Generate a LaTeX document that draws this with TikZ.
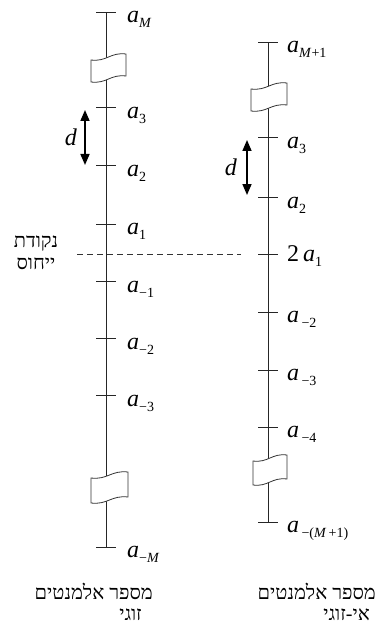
\documentclass[tikz,border=0pt]{standalone}
\usepackage{fontspec}
\setmainfont{Liberation Serif}
\newfontfamily\hebfont[Script=Hebrew]{Liberation Serif}
\TeXXeTstate=1
\usetikzlibrary{arrows.meta}

\newcommand{\el}[1]{\textit{a}\raisebox{-5pt}{\fontsize{14}{14}\selectfont #1}}
% broken-axis mark: left x, right x, top y, bottom y
\newcommand{\axisbreak}[4]{%
  \draw[brk] (#1,#3+3) .. controls ({#1+0.45*(#2-#1)},#3+5) and ({#1+0.55*(#2-#1)},#3-5) .. (#2,#3-3)
    -- (#2,#4-3) .. controls ({#1+0.55*(#2-#1)},#4-5) and ({#1+0.45*(#2-#1)},#4+5) .. (#1,#4+3) -- cycle;
}

\begin{document}
\begin{tikzpicture}[x=1pt, y=-1pt,
  axis/.style={line width=1pt, black!85},
  brk/.style={line width=0.8pt, black!80, fill=white},
  lbl/.style={anchor=base west, inner sep=0pt, font=\fontsize{24}{26}\selectfont},
  heb/.style={inner sep=0pt, font=\fontsize{20}{22}\selectfont\hebfont},
  darrow/.style={line width=1.6pt, {Triangle[length=11pt,width=9pt]}-{Triangle[length=11pt,width=9pt]}}]
  \useasboundingbox (0,0) rectangle (376,631);

  % even number of elements
  \coordinate (LM) at (106,13);
  \coordinate (L3) at (106,108);
  \coordinate (L2) at (106,166);
  \coordinate (L1) at (106,224);
  \coordinate (Lm1) at (106,281);
  \coordinate (Lm2) at (106,338);
  \coordinate (Lm3) at (106,395);
  \coordinate (LmM) at (106,547);

  \draw[axis] (LM) -- (LmM);
  \draw[axis] ([xshift=-10pt]LM) -- ([xshift=10pt]LM);
  \draw[axis] ([xshift=-10pt]L3) -- ([xshift=10pt]L3);
  \draw[axis] ([xshift=-10pt]L2) -- ([xshift=10pt]L2);
  \draw[axis] ([xshift=-10pt]L1) -- ([xshift=10pt]L1);
  \draw[axis] ([xshift=-10pt]Lm1) -- ([xshift=10pt]Lm1);
  \draw[axis] ([xshift=-10pt]Lm2) -- ([xshift=10pt]Lm2);
  \draw[axis] ([xshift=-10pt]Lm3) -- ([xshift=10pt]Lm3);
  \draw[axis] ([xshift=-10pt]LmM) -- ([xshift=10pt]LmM);
  \axisbreak{91}{126}{57}{79}
  \axisbreak{91}{128}{475}{500}

  \node[lbl] (tLM) at ([xshift=21pt,yshift=-10pt]LM) {\el{\textit{M}}};
  \node[lbl] (tL3) at ([xshift=21pt,yshift=-11pt]L3) {\el{3}};
  \node[lbl] (tL2) at ([xshift=21pt,yshift=-11pt]L2) {\el{2}};
  \node[lbl] (tL1) at ([xshift=21pt,yshift=-10pt]L1) {\el{1}};
  \node[lbl] (tLm1) at ([xshift=21pt,yshift=-11pt]Lm1) {\el{−1}};
  \node[lbl] (tLm2) at ([xshift=21pt,yshift=-11pt]Lm2) {\el{−2}};
  \node[lbl] (tLm3) at ([xshift=21pt,yshift=-11pt]Lm3) {\el{−3}};
  \node[lbl] (tLmM) at ([xshift=21pt,yshift=-10pt]LmM) {\el{−\textit{M}}};

  \coordinate (dL1) at (85,110);
  \coordinate (dL2) at (85,165);
  \draw[darrow] (dL1) -- (dL2);
  \node[lbl, anchor=center] (dL) at (71,137) {\textit{d}};

  % odd number of elements
  \coordinate (RM) at (268,43);
  \coordinate (R3) at (268,138);
  \coordinate (R2) at (268,197);
  \coordinate (R1) at (268,254);
  \coordinate (Rm2) at (268,312);
  \coordinate (Rm3) at (268,370);
  \coordinate (Rm4) at (268,427);
  \coordinate (RmM) at (268,522);

  \draw[axis] (RM) -- (RmM);
  \draw[axis] ([xshift=-10pt]RM) -- ([xshift=10pt]RM);
  \draw[axis] ([xshift=-10pt]R3) -- ([xshift=10pt]R3);
  \draw[axis] ([xshift=-10pt]R2) -- ([xshift=10pt]R2);
  \draw[axis] ([xshift=-10pt]R1) -- ([xshift=10pt]R1);
  \draw[axis] ([xshift=-10pt]Rm2) -- ([xshift=10pt]Rm2);
  \draw[axis] ([xshift=-10pt]Rm3) -- ([xshift=10pt]Rm3);
  \draw[axis] ([xshift=-10pt]Rm4) -- ([xshift=10pt]Rm4);
  \draw[axis] ([xshift=-10pt]RmM) -- ([xshift=10pt]RmM);
  \axisbreak{251}{287}{86}{108}
  \axisbreak{253}{287}{458}{482}

  \node[lbl] (tRM) at ([xshift=19pt,yshift=-10pt]RM) {\el{\textit{M}+1}};
  \node[lbl] (tR3) at ([xshift=19pt,yshift=-11pt]R3) {\el{3}};
  \node[lbl] (tR2) at ([xshift=19pt,yshift=-11pt]R2) {\el{2}};
  \node[lbl] (tR1) at ([xshift=19pt,yshift=-7pt]R1) {2\,\el{1}};
  \node[lbl] (tRm2) at ([xshift=19pt,yshift=-10pt]Rm2) {\el{\,−2}};
  \node[lbl] (tRm3) at ([xshift=19pt,yshift=-10pt]Rm3) {\el{\,−3}};
  \node[lbl] (tRm4) at ([xshift=19pt,yshift=-10pt]Rm4) {\el{\,−4}};
  \node[lbl] (tRmM) at ([xshift=19pt,yshift=-10pt]RmM) {\el{\,−(\textit{M}\,+1)}};

  \coordinate (dR1) at (247,140);
  \coordinate (dR2) at (247,195);
  \draw[darrow] (dR1) -- (dR2);
  \node[lbl, anchor=center] (dR) at (231,167) {\textit{d}};

  % reference point
  \coordinate (ref1) at (77,254);
  \coordinate (ref2) at (241,254);
  \draw[line width=0.8pt, black!80, dash pattern=on 6pt off 4pt] (ref1) -- (ref2);
  \node[heb, align=center] (refl) at (36,253) {\beginR נקודת\endR\\\beginR ייחוס\endR};

  \node[heb, anchor=east] (evn1) at (153,591) {\beginR מספר אלמנטים\endR};
  \node[heb, anchor=east] (evn2) at (142,615) {\beginR זוגי\endR};
  \node[heb, anchor=east] (odd1) at (376,591) {\beginR מספר אלמנטים\endR};
  \node[heb, anchor=east] (odd2) at (370,615) {\beginR אי-זוגי\endR};
\end{tikzpicture}
\end{document}
